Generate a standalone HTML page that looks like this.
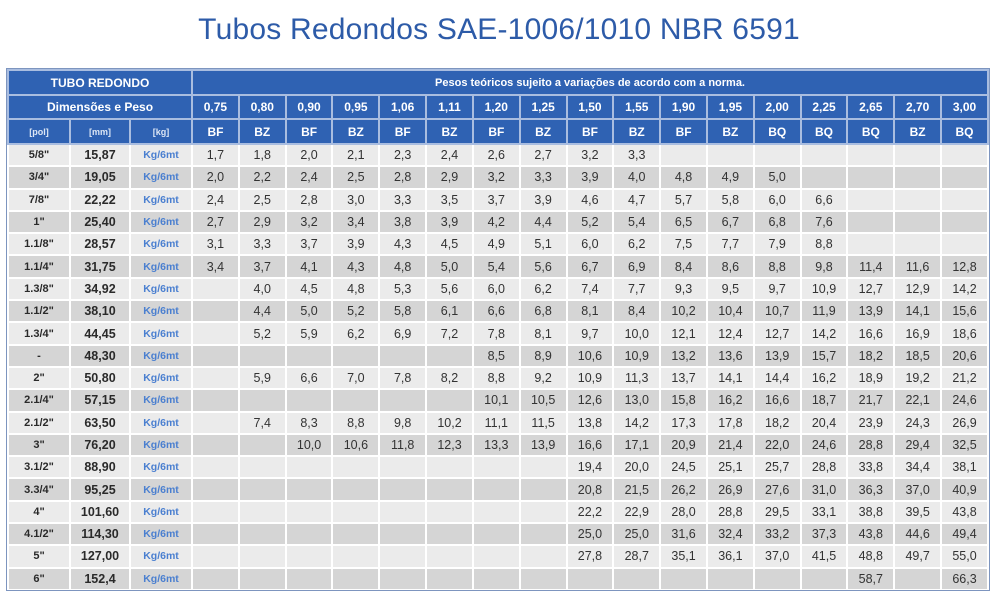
<!DOCTYPE html>
<html><head><meta charset="utf-8"><style>
body{margin:0;width:998px;height:600px;background:#fff;font-family:"Liberation Sans",Arial,sans-serif;overflow:hidden;position:relative}
h1{position:absolute;left:0;width:998px;top:13px;margin:0;text-align:center;font-weight:normal;font-size:30px;color:#2d5ba8;letter-spacing:0.2px}
#w{position:absolute;left:6px;top:68px;width:982px;height:521px;border:1px solid #7d95bf;background:#fff;overflow:hidden}
table{border-collapse:collapse;table-layout:fixed;width:982px}
td{border:2px solid #fff;text-align:center;padding:0;font-size:12.5px;line-height:14px;color:#333;overflow:hidden;white-space:nowrap}
tr.h td{background:#2f62b3;color:#fff;font-weight:bold;border-color:#a9bde0}
tr.h0 td{height:23px}tr.h1 td{height:22px}tr.h2 td{height:23px}
tr.h0 td,tr.h1 td,tr.h2 td{font-size:12px}
tr.h0 td.n{font-size:11px}
tr.h2 td.s{font-size:9px;color:#dce6f5}
tr.d td{height:20.3px}
tr.l td{background:#ebebeb}tr.k td{background:#d5d5d5}
td.p,td.m{font-weight:bold;color:#2a2a2a}
td.p{font-size:11px}
td.g{color:#4a7fd0;font-weight:bold;font-size:10.5px}
</style></head><body>
<h1>Tubos Redondos SAE-1006/1010 NBR 6591</h1>
<div id="w"><table id="t">
<colgroup><col style="width:62px"><col style="width:60px"><col style="width:62px"></colgroup>
<tr class="h h0"><td colspan="3">TUBO REDONDO</td><td colspan="17" class="n">Pesos teóricos sujeito a variações de acordo com a norma.</td></tr>
<tr class="h h1"><td colspan="3">Dimensões e Peso</td><td>0,75</td><td>0,80</td><td>0,90</td><td>0,95</td><td>1,06</td><td>1,11</td><td>1,20</td><td>1,25</td><td>1,50</td><td>1,55</td><td>1,90</td><td>1,95</td><td>2,00</td><td>2,25</td><td>2,65</td><td>2,70</td><td>3,00</td></tr>
<tr class="h h2"><td class="s">[pol]</td><td class="s">[mm]</td><td class="s">[kg]</td><td>BF</td><td>BZ</td><td>BF</td><td>BZ</td><td>BF</td><td>BZ</td><td>BF</td><td>BZ</td><td>BF</td><td>BZ</td><td>BF</td><td>BZ</td><td>BQ</td><td>BQ</td><td>BQ</td><td>BZ</td><td>BQ</td></tr>
</table></div>
<script>
var R=[
["5/8\"","15,87","1,7 1,8 2,0 2,1 2,3 2,4 2,6 2,7 3,2 3,3"],
["3/4\"","19,05","2,0 2,2 2,4 2,5 2,8 2,9 3,2 3,3 3,9 4,0 4,8 4,9 5,0"],
["7/8\"","22,22","2,4 2,5 2,8 3,0 3,3 3,5 3,7 3,9 4,6 4,7 5,7 5,8 6,0 6,6"],
["1\"","25,40","2,7 2,9 3,2 3,4 3,8 3,9 4,2 4,4 5,2 5,4 6,5 6,7 6,8 7,6"],
["1.1/8\"","28,57","3,1 3,3 3,7 3,9 4,3 4,5 4,9 5,1 6,0 6,2 7,5 7,7 7,9 8,8"],
["1.1/4\"","31,75","3,4 3,7 4,1 4,3 4,8 5,0 5,4 5,6 6,7 6,9 8,4 8,6 8,8 9,8 11,4 11,6 12,8"],
["1.3/8\"","34,92","_ 4,0 4,5 4,8 5,3 5,6 6,0 6,2 7,4 7,7 9,3 9,5 9,7 10,9 12,7 12,9 14,2"],
["1.1/2\"","38,10","_ 4,4 5,0 5,2 5,8 6,1 6,6 6,8 8,1 8,4 10,2 10,4 10,7 11,9 13,9 14,1 15,6"],
["1.3/4\"","44,45","_ 5,2 5,9 6,2 6,9 7,2 7,8 8,1 9,7 10,0 12,1 12,4 12,7 14,2 16,6 16,9 18,6"],
["-","48,30","_ _ _ _ _ _ 8,5 8,9 10,6 10,9 13,2 13,6 13,9 15,7 18,2 18,5 20,6"],
["2\"","50,80","_ 5,9 6,6 7,0 7,8 8,2 8,8 9,2 10,9 11,3 13,7 14,1 14,4 16,2 18,9 19,2 21,2"],
["2.1/4\"","57,15","_ _ _ _ _ _ 10,1 10,5 12,6 13,0 15,8 16,2 16,6 18,7 21,7 22,1 24,6"],
["2.1/2\"","63,50","_ 7,4 8,3 8,8 9,8 10,2 11,1 11,5 13,8 14,2 17,3 17,8 18,2 20,4 23,9 24,3 26,9"],
["3\"","76,20","_ _ 10,0 10,6 11,8 12,3 13,3 13,9 16,6 17,1 20,9 21,4 22,0 24,6 28,8 29,4 32,5"],
["3.1/2\"","88,90","_ _ _ _ _ _ _ _ 19,4 20,0 24,5 25,1 25,7 28,8 33,8 34,4 38,1"],
["3.3/4\"","95,25","_ _ _ _ _ _ _ _ 20,8 21,5 26,2 26,9 27,6 31,0 36,3 37,0 40,9"],
["4\"","101,60","_ _ _ _ _ _ _ _ 22,2 22,9 28,0 28,8 29,5 33,1 38,8 39,5 43,8"],
["4.1/2\"","114,30","_ _ _ _ _ _ _ _ 25,0 25,0 31,6 32,4 33,2 37,3 43,8 44,6 49,4"],
["5\"","127,00","_ _ _ _ _ _ _ _ 27,8 28,7 35,1 36,1 37,0 41,5 48,8 49,7 55,0"],
["6\"","152,4","_ _ _ _ _ _ _ _ _ _ _ _ _ _ 58,7 _ 66,3"]];
var t=document.getElementById('t'),h='';
R.forEach(function(r,i){var v=r[2].split(' ');h+='<tr class="d '+(i%2?'k':'l')+'"><td class="p">'+r[0]+'</td><td class="m">'+r[1]+'</td><td class="g">Kg/6mt</td>';
for(var j=0;j<17;j++){var x=v[j];h+='<td>'+(x&&x!='_'?x:'')+'</td>';}h+='</tr>';});
t.insertAdjacentHTML('beforeend',h);
</script>
</body></html>
